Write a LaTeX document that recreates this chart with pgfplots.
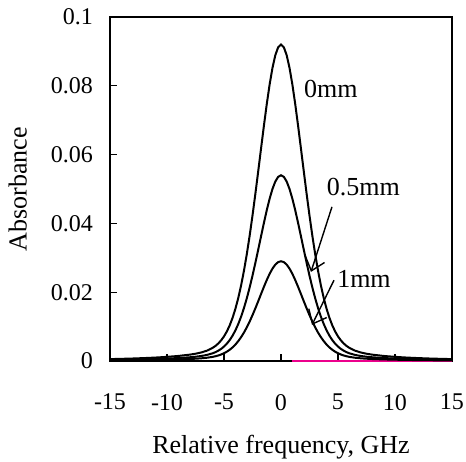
\documentclass[border=0pt]{standalone}
\usepackage{fontspec}
\setmainfont{Liberation Serif}
\usepackage{pgfplots}
\pgfplotsset{compat=1.18}
\usetikzlibrary{arrows.meta}
\begin{document}
\begin{tikzpicture}
\begin{axis}[
  name=ax,
  scale only axis,
  width=171pt, height=172pt,
  xmin=-15, xmax=15, ymin=0, ymax=0.1,
  xtick={-15,-10,-5,0,5,10,15},
  xticklabels={-15,-10,-5,0,5,10,15},
  ytick={0,0.02,0.04,0.06,0.08,0.1},
  yticklabels={0,0.02,0.04,0.06,0.08,0.1},
  tick pos=left, tick align=inside,
  major tick length=3.7pt,
  axis line style={line width=0.6pt},
  tick style={line width=0.6pt, black},
  ticklabel style={font=\fontsize{12}{14}\selectfont},
  xticklabel style={yshift=-13pt},
  yticklabel style={xshift=-5pt},
  xlabel={Relative frequency, GHz},
  ylabel={Absorbance},
  label style={font=\fontsize{13}{15}\selectfont},
  xlabel style={at={(axis description cs:0.5,0)}, anchor=north, inner sep=0pt, yshift=-37pt},
  ylabel style={at={(axis description cs:-0.27,0.5)}, anchor=center},
  clip=false,
]
\addplot[magenta, line width=0.8pt] coordinates {(1,0) (15,0)};
% 0 mm
\addplot[black, line width=1pt] coordinates {
(-15,0.000551) (-14,0.000630) (-13,0.000728) (-12,0.000850) (-11,0.001004) (-10,0.001204) (-9,0.001471) (-8,0.001849) (-7.5,0.002115) (-7,0.002477) (-6.5,0.003002) (-6,0.003811) (-5.75,0.004380) (-5.5,0.005099) (-5.25,0.006009) (-5,0.007154) (-4.75,0.008587) (-4.5,0.010361) (-4.25,0.012533) (-4,0.015164) (-3.75,0.018298) (-3.5,0.021975) (-3.25,0.026223) (-3,0.031044) (-2.75,0.036413) (-2.5,0.042277) (-2.25,0.048552) (-2,0.055104) (-1.75,0.061775) (-1.5,0.068365) (-1.25,0.074640) (-1,0.080335) (-0.75,0.085170) (-0.5,0.088872) (-0.25,0.091204) (0,0.092000)
(0.25,0.091204) (0.5,0.088872) (0.75,0.085170) (1,0.080335) (1.25,0.074640) (1.5,0.068365) (1.75,0.061775) (2,0.055104) (2.25,0.048552) (2.5,0.042277) (2.75,0.036413) (3,0.031044) (3.25,0.026223) (3.5,0.021975) (3.75,0.018298) (4,0.015164) (4.25,0.012533) (4.5,0.010361) (4.75,0.008587) (5,0.007154) (5.25,0.006009) (5.5,0.005099) (5.75,0.004380) (6,0.003811) (6.5,0.003002) (7,0.002477) (7.5,0.002115) (8,0.001849) (9,0.001471) (10,0.001204) (11,0.001004) (12,0.000850) (13,0.000728) (14,0.000630) (15,0.000551)
};
% 0.5 mm
\addplot[black, line width=1pt] coordinates {
(-15,0.000323) (-14,0.000370) (-13,0.000427) (-12,0.000499) (-11,0.000589) (-10,0.000707) (-9,0.000863) (-8,0.001086) (-7.5,0.001242) (-7,0.001454) (-6.5,0.001762) (-6,0.002237) (-5.75,0.002571) (-5.5,0.002993) (-5.25,0.003527) (-5,0.004199) (-4.75,0.005040) (-4.5,0.006081) (-4.25,0.007356) (-4,0.008900) (-3.75,0.010740) (-3.5,0.012898) (-3.25,0.015392) (-3,0.018221) (-2.75,0.021373) (-2.5,0.024815) (-2.25,0.028498) (-2,0.032343) (-1.75,0.036260) (-1.5,0.040127) (-1.25,0.043810) (-1,0.047153) (-0.75,0.049991) (-0.5,0.052164) (-0.25,0.053533) (0,0.054000)
(0.25,0.053533) (0.5,0.052164) (0.75,0.049991) (1,0.047153) (1.25,0.043810) (1.5,0.040127) (1.75,0.036260) (2,0.032343) (2.25,0.028498) (2.5,0.024815) (2.75,0.021373) (3,0.018221) (3.25,0.015392) (3.5,0.012898) (3.75,0.010740) (4,0.008900) (4.25,0.007356) (4.5,0.006081) (4.75,0.005040) (5,0.004199) (5.25,0.003527) (5.5,0.002993) (5.75,0.002571) (6,0.002237) (6.5,0.001762) (7,0.001454) (7.5,0.001242) (8,0.001086) (9,0.000863) (10,0.000707) (11,0.000589) (12,0.000499) (13,0.000427) (14,0.000370) (15,0.000323)
};
% 1 mm
\addplot[black, line width=1pt] coordinates {
(-15,0.000174) (-14,0.000199) (-13,0.000229) (-12,0.000268) (-11,0.000316) (-10,0.000379) (-9,0.000464) (-8,0.000583) (-7.5,0.000667) (-7,0.000781) (-6.5,0.000946) (-6,0.001201) (-5.75,0.001381) (-5.5,0.001607) (-5.25,0.001894) (-5,0.002255) (-4.75,0.002707) (-4.5,0.003266) (-4.25,0.003951) (-4,0.004780) (-3.75,0.005768) (-3.5,0.006927) (-3.25,0.008266) (-3,0.009786) (-2.75,0.011478) (-2.5,0.013327) (-2.25,0.015304) (-2,0.017370) (-1.75,0.019473) (-1.5,0.021550) (-1.25,0.023528) (-1,0.025323) (-0.75,0.026847) (-0.5,0.028014) (-0.25,0.028749) (0,0.029000)
(0.25,0.028749) (0.5,0.028014) (0.75,0.026847) (1,0.025323) (1.25,0.023528) (1.5,0.021550) (1.75,0.019473) (2,0.017370) (2.25,0.015304) (2.5,0.013327) (2.75,0.011478) (3,0.009786) (3.25,0.008266) (3.5,0.006927) (3.75,0.005768) (4,0.004780) (4.25,0.003951) (4.5,0.003266) (4.75,0.002707) (5,0.002255) (5.25,0.001894) (5.5,0.001607) (5.75,0.001381) (6,0.001201) (6.5,0.000946) (7,0.000781) (7.5,0.000667) (8,0.000583) (9,0.000464) (10,0.000379) (11,0.000316) (12,0.000268) (13,0.000229) (14,0.000199) (15,0.000174)
};
\node[anchor=west, inner sep=0pt, font=\fontsize{13}{15}\selectfont] at (axis cs:2.0,0.0792) {0mm};
\node[anchor=west, inner sep=0pt, font=\fontsize{13}{15}\selectfont] at (axis cs:4.0,0.0506) {0.5mm};
\node[anchor=west, inner sep=0pt, font=\fontsize{13}{15}\selectfont] at (axis cs:4.9,0.0240) {1mm};
\draw[line width=0.7pt, -{Straight Barb[length=6pt,width=10pt]}] (axis cs:4.47,0.0448) -- (axis cs:2.63,0.0259);
\draw[line width=0.7pt, -{Straight Barb[length=6pt,width=10pt]}] (axis cs:4.65,0.0235) -- (axis cs:2.72,0.0105);
\end{axis}
\pgfresetboundingbox
\useasboundingbox ([shift={(-55pt,-50pt)}]ax.south west) rectangle ([shift={(7pt,8.5pt)}]ax.north east);
\end{tikzpicture}
\end{document}
